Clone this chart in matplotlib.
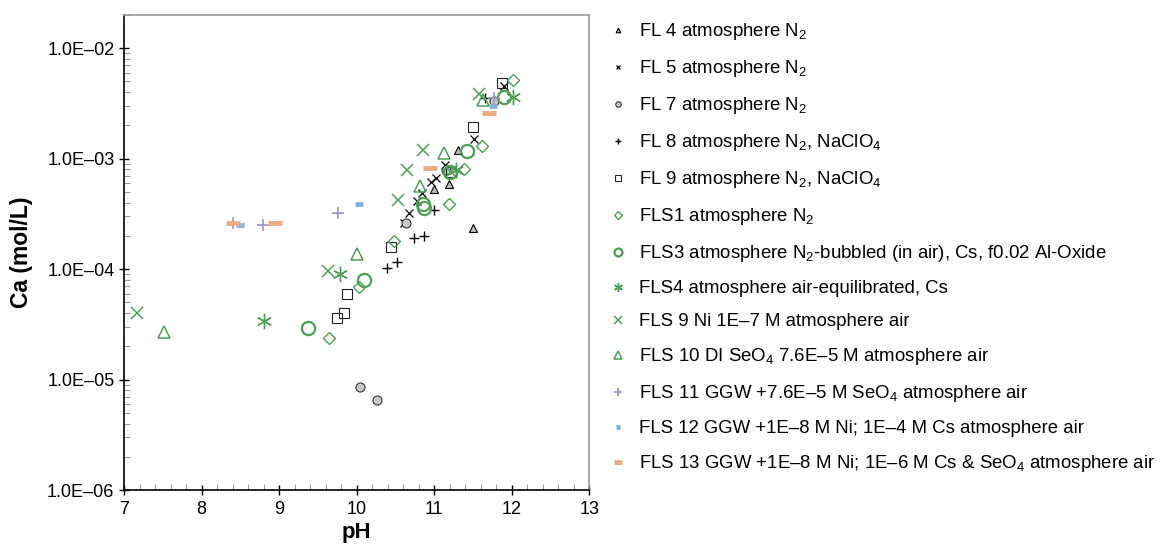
import numpy as np
import matplotlib
matplotlib.use("Agg")
import matplotlib.pyplot as plt
from matplotlib.ticker import FixedLocator, FuncFormatter, LogLocator, MultipleLocator

plt.rcParams['font.family'] = ['Liberation Sans', 'DejaVu Sans']
plt.rcParams['mathtext.fontset'] = 'custom'
plt.rcParams['mathtext.rm'] = 'Liberation Sans'
plt.rcParams['mathtext.it'] = 'Liberation Sans:italic'
plt.rcParams['mathtext.bf'] = 'Liberation Sans:bold'

# pH / Ca (mol/L)
fl4_ph = [11.31, 11.19, 11.00, 11.50]
fl4_ca = [1.2e-3, 5.9e-4, 5.3e-4, 2.35e-4]

fl5_ph = [11.90, 11.51, 11.14, 11.02, 10.96, 10.84, 10.78, 10.67, 10.61]
fl5_ca = [4.5e-3, 1.5e-3, 8.7e-4, 6.7e-4, 6.2e-4, 4.9e-4, 4.1e-4, 3.2e-4, 2.6e-4]

fl7_ph = [10.04, 10.26, 10.63, 11.15, 11.77]
fl7_ca = [8.5e-6, 6.5e-6, 2.6e-4, 7.9e-4, 3.3e-3]

fl8_ph = [10.39, 10.52, 10.74, 10.87, 11.00, 11.66]
fl8_ca = [1.03e-4, 1.15e-4, 1.9e-4, 2.0e-4, 3.4e-4, 3.5e-3]

fl9_ph = [11.88, 11.50, 11.22, 10.44, 9.87, 9.83, 9.74]
fl9_ca = [4.8e-3, 1.95e-3, 7.6e-4, 1.6e-4, 5.9e-5, 4.0e-5, 3.6e-5]

fls1_ph = [12.02, 11.61, 11.39, 11.19, 10.48, 10.03, 9.64]
fls1_ca = [5.1e-3, 1.3e-3, 8.1e-4, 3.9e-4, 1.8e-4, 6.9e-5, 2.4e-5]

fls3_ph = [11.90, 11.42, 11.20, 10.87, 10.86, 10.09, 9.37]
fls3_ca = [3.6e-3, 1.17e-3, 7.6e-4, 3.6e-4, 3.9e-4, 7.9e-5, 2.9e-5]

fls4_ph = [12.02, 11.28, 9.78, 8.80]
fls4_ca = [3.6e-3, 7.8e-4, 9.0e-5, 3.4e-5]

fls9_ph = [11.58, 10.86, 10.65, 10.53, 9.63, 7.17, 11.22]
fls9_ca = [3.8e-3, 1.2e-3, 7.8e-4, 4.2e-4, 9.6e-5, 4.0e-5, 7.5e-4]

fls10_ph = [11.63, 11.13, 10.82, 10.01, 7.52]
fls10_ca = [3.4e-3, 1.12e-3, 5.6e-4, 1.38e-4, 2.7e-5]

fls11_ph = [8.41, 8.79, 9.76, 11.77]
fls11_ca = [2.6e-4, 2.5e-4, 3.2e-4, 3.5e-3]

fls12_ph = [8.50, 10.03, 11.76]
fls12_ca = [2.5e-4, 3.85e-4, 3.0e-3]

fls13_ph = [8.40, 8.94, 10.95, 11.71]
fls13_ca = [2.6e-4, 2.6e-4, 8.3e-4, 2.6e-3]

green = '#4e9e58'
series = [
    (fl4_ph, fl4_ca, dict(marker='^', ms=5.5, mfc='#bdbdbd', mec='black', mew=0.8), 'FL 4 atmosphere N$_2$'),
    (fl5_ph, fl5_ca, dict(marker='x', ms=6, mec='black', mew=0.9), 'FL 5 atmosphere N$_2$'),
    (fl7_ph, fl7_ca, dict(marker='o', ms=6.5, mfc='#c8c8c8', mec='#333333', mew=0.8), 'FL 7 atmosphere N$_2$'),
    (fl8_ph, fl8_ca, dict(marker='+', ms=7, mec='black', mew=1.0), 'FL 8 atmosphere N$_2$, NaClO$_4$'),
    (fl9_ph, fl9_ca, dict(marker='s', ms=6.5, mfc='none', mec='#222222', mew=0.8), 'FL 9 atmosphere N$_2$, NaClO$_4$'),
    (fls1_ph, fls1_ca, dict(marker='D', ms=6.5, mfc='none', mec=green, mew=1.0), 'FLS1 atmosphere N$_2$'),
    (fls3_ph, fls3_ca, dict(marker='o', ms=9.5, mfc='none', mec=green, mew=1.6), 'FLS3 atmosphere N$_2$-bubbled (in air), Cs, f0.02 Al-Oxide'),
    (fls4_ph, fls4_ca, dict(marker=(6, 2, 0), ms=11, mec=green, mew=1.0), 'FLS4 atmosphere air-equilibrated, Cs'),
    (fls9_ph, fls9_ca, dict(marker='x', ms=9, mec=green, mew=1.1), 'FLS 9 Ni 1E\u20137 M atmosphere air'),
    (fls10_ph, fls10_ca, dict(marker='^', ms=9, mfc='none', mec=green, mew=1.1), 'FLS 10 DI SeO$_4$ 7.6E\u20135 M atmosphere air'),
    (fls11_ph, fls11_ca, dict(marker='+', ms=9, mec='#9d94c4', mew=1.2), 'FLS 11 GGW +7.6E\u20135 M SeO$_4$ atmosphere air'),
    (fls12_ph, fls12_ca, dict(marker='_', ms=6, mec='#7fb3dc', mew=3.5), 'FLS 12 GGW +1E\u20138 M Ni; 1E\u20134 M Cs atmosphere air'),
    (fls13_ph, fls13_ca, dict(marker='_', ms=10, mec='#e9ad83', mew=3.5), 'FLS 13 GGW +1E\u20138 M Ni; 1E\u20136 M Cs & SeO$_4$ atmosphere air'),
]

fig = plt.figure(figsize=(11.6, 5.47), dpi=100)
ax = fig.add_axes([0.107, 0.104, 0.401, 0.869])

handles = []
for ph, ca, st, lab in series:
    h, = ax.plot(ph, ca, linestyle='none', label=lab, **st)
    handles.append(h)

ax.set_yscale('log')
ax.set_xlim(7, 13)
ax.set_ylim(1e-6, 2e-2)
ax.xaxis.set_major_locator(MultipleLocator(1))
ax.xaxis.set_minor_locator(MultipleLocator(0.2))
ax.yaxis.set_major_locator(FixedLocator([1e-6, 1e-5, 1e-4, 1e-3, 1e-2]))
ax.yaxis.set_minor_locator(LogLocator(base=10, subs=np.arange(2, 10)))


def efmt(v, pos):
    e = int(round(np.log10(v)))
    return '1.0E\u2013%02d' % abs(e)


ax.yaxis.set_major_formatter(FuncFormatter(efmt))
ax.tick_params(axis='both', which='major', direction='inout', length=7, width=1, labelsize=13, colors='black')
ax.tick_params(axis='both', which='minor', direction='in', length=4, width=0.8, color='#999999')
ax.tick_params(axis='x', pad=4)
for s in ['left', 'bottom']:
    ax.spines[s].set_color('black')
    ax.spines[s].set_linewidth(1.2)
for s in ['top', 'right']:
    ax.spines[s].set_color('#999999')
    ax.spines[s].set_linewidth(1.2)

ax.set_xlabel('pH', fontsize=16, fontweight='bold', labelpad=3)
ax.set_ylabel('Ca (mol/L)', fontsize=16.5, fontweight='bold', labelpad=10)

leg = fig.legend(handles=handles, loc='upper left', bbox_to_anchor=(0.52, 0.975),
                 frameon=False, fontsize=13.4, markerscale=0.6, handlelength=0.8,
                 handletextpad=0.75, labelspacing=0.86, borderaxespad=0)

fig.savefig('out.png', dpi=100)
